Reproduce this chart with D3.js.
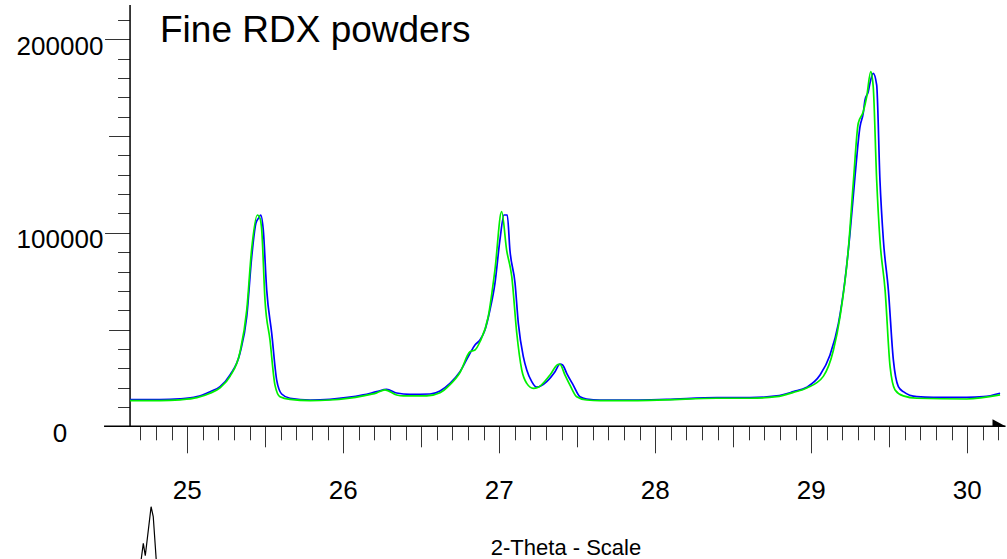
<!DOCTYPE html>
<html>
<head>
<meta charset="utf-8">
<script src="https://cdn.jsdelivr.net/npm/d3@7"></script>
<style>
  html, body { margin: 0; padding: 0; background: #fff; }
  svg { display: block; font-family: "Liberation Sans", Arial, sans-serif; }
</style>
</head>
<body>
<svg id="chart" width="1007" height="559"></svg>
<script>
// Diffraction profiles of two fine RDX powders (2-theta in degrees, intensity in counts)
const blueTheta = [24.633, 24.825, 24.953, 25.062, 25.146, 25.210, 25.274, 25.338, 25.381, 25.413,
  25.440, 25.458, 25.471, 25.487, 25.509, 25.541, 25.573, 25.605, 25.658, 25.787,
  25.915, 26.128, 26.214, 26.278, 26.342, 26.428, 26.556, 26.620, 26.684, 26.748,
  26.812, 26.844, 26.876, 26.908, 26.940, 26.972, 27.004, 27.030, 27.051, 27.068,
  27.101, 27.122, 27.154, 27.176, 27.208, 27.240, 27.304, 27.357, 27.389, 27.406,
  27.432, 27.474, 27.517, 27.560, 27.645, 27.859, 28.073, 28.394, 28.607, 28.778,
  28.885, 28.971, 29.056, 29.120, 29.174, 29.216, 29.248, 29.280, 29.312, 29.333,
  29.344, 29.365, 29.376, 29.397, 29.419, 29.440, 29.462, 29.494, 29.526, 29.558,
  29.590, 29.676, 29.782, 29.996, 30.103, 30.210];
const blueCounts = [13850, 13850, 14200, 15300, 17900, 20500, 26500, 37900, 56600, 87700,
  105100, 107700, 109200, 101500, 70400, 48200, 23900, 16700, 14500, 13600,
  13950, 16200, 17900, 19100, 17200, 16500, 16700, 18300, 22200, 28200,
  37700, 42000, 44600, 49800, 60100, 73900, 96300, 109200, 109200, 91100,
  73900, 53200, 36000, 29100, 23100, 20200, 23100, 28200, 32200, 31700,
  27400, 21300, 15300, 14100, 13600, 13600, 13950, 14800, 14800, 15700,
  17900, 20200, 26500, 36900, 53200, 75600, 99700, 129000, 154800, 161800,
  168600, 172900, 177300, 182400, 176400, 127300, 96300, 70400, 34300, 20500,
  17900, 15300, 15000, 15000, 15300, 17100];

const greenTheta = [24.633, 24.825, 24.953, 25.062, 25.146, 25.210, 25.274, 25.338, 25.381, 25.413,
  25.449, 25.466, 25.477, 25.498, 25.530, 25.562, 25.594, 25.658, 25.787, 25.915,
  26.128, 26.214, 26.267, 26.342, 26.385, 26.535, 26.620, 26.684, 26.748, 26.812,
  26.844, 26.876, 26.929, 26.972, 27.015, 27.047, 27.080, 27.112, 27.144, 27.176,
  27.218, 27.250, 27.325, 27.378, 27.389, 27.421, 27.453, 27.496, 27.560, 27.645,
  27.859, 28.073, 28.394, 28.607, 28.778, 28.885, 28.971, 29.077, 29.142, 29.184,
  29.237, 29.269, 29.301, 29.333, 29.355, 29.381, 29.397, 29.419, 29.440, 29.473,
  29.505, 29.537, 29.590, 29.676, 29.996, 30.210];
const greenCounts = [13300, 13300, 13700, 14800, 17100, 19900, 25800, 38500, 60000, 92000,
  109200, 107500, 101500, 65300, 44600, 21300, 15300, 13900, 13300, 13600,
  15700, 17300, 18800, 16200, 15700, 15700, 17300, 21500, 27800, 38500,
  39400, 43700, 56600, 80800, 110900, 91100, 77300, 48100, 29100, 22200,
  19600, 20200, 26500, 32000, 32000, 26500, 21300, 15300, 13600, 13300,
  13300, 13700, 14500, 14500, 15300, 17500, 19800, 25800, 39400, 56600,
  91100, 125600, 156600, 162600, 170300, 183300, 175500, 127300, 96300, 70400,
  30800, 18800, 15700, 14500, 14100, 16200];

// Axis labelling
const yLabelValues = [0, 100000, 200000];
const xLabelValues = [25, 26, 27, 28, 29, 30];
const titleText = "Fine RDX powders";
const xAxisTitle = "2-Theta - Scale";

// Small scan preview shown under the axis
const previewPos = [0, 0.15, 0.28, 0.66, 0.8, 1.0];
const previewLevel = [-0.05, 0.29, 0.05, 1.0, 0.81, -0.05];

const svg = d3.select("#chart");

const x = d3.scaleLinear().domain([25, 30]).range([187.3, 967.3]);
const y = d3.scaleLinear().domain([0, 200000]).range([426.3, 39.3]);

const xMin = 24.633, xMax = 30.245, yTop = 217700;

// Y axis: ticks every 10000, longer at 50000 and 100000 multiples
const yTicks = d3.range(0, 210001, 10000);
const yAxis = svg.append("g");
yAxis.selectAll("line.tick").data(yTicks).join("line")
  .attr("x1", d => d % 100000 === 0 ? x(xMin) - 25 : (d % 50000 === 0 ? x(xMin) - 21 : x(xMin) - 12))
  .attr("x2", x(xMin))
  .attr("y1", d => Math.round(y(d)) + 0.5)
  .attr("y2", d => Math.round(y(d)) + 0.5)
  .attr("stroke", "#333").attr("stroke-width", 1);
yAxis.append("line")
  .attr("x1", x(xMin)).attr("x2", x(xMin))
  .attr("y1", y(yTop)).attr("y2", y(0))
  .attr("stroke", "#000").attr("stroke-width", 1.5);
yAxis.selectAll("text").data(yLabelValues).join("text")
  .attr("x", 60).attr("y", d => y(d) + 15.2)
  .attr("text-anchor", "middle")
  .attr("font-size", 26)
  .text(d => d3.format("d")(d));

// X axis: ticks every 0.1, longer at halves and integers
const xTicks = d3.range(247, 303).map(v => v / 10);
const xAxis = svg.append("g");
xAxis.selectAll("line.tick").data(xTicks).join("line")
  .attr("x1", d => Math.round(x(d)) + 0.5)
  .attr("x2", d => Math.round(x(d)) + 0.5)
  .attr("y1", y(0))
  .attr("y2", d => {
    const k = Math.round(d * 10);
    if (k % 10 === 0) return y(0) + 27;
    if (k % 5 === 0) return y(0) + 21;
    return y(0) + 14;
  })
  .attr("stroke", "#333").attr("stroke-width", 1);
xAxis.append("line")
  .attr("x1", x(xMin) - 26).attr("x2", x(xMax))
  .attr("y1", y(0)).attr("y2", y(0))
  .attr("stroke", "#000").attr("stroke-width", 1.5);
xAxis.append("path")
  .attr("d", d3.line()([[x(xMax) - 13, y(0) - 7], [x(xMax), y(0)], [x(xMax) - 13, y(0) + 0.5]]) + "Z")
  .attr("fill", "#000");
xAxis.selectAll("text").data(xLabelValues).join("text")
  .attr("x", d => x(d)).attr("y", 499)
  .attr("text-anchor", "middle")
  .attr("font-size", 26)
  .text(d => d);

svg.append("text")
  .attr("x", 566).attr("y", 555)
  .attr("text-anchor", "middle")
  .attr("font-size", 22)
  .text(xAxisTitle);

svg.append("text")
  .attr("x", 160).attr("y", 42)
  .attr("font-size", 37)
  .text(titleText);

// Profiles
const line = d3.line().curve(d3.curveMonotoneX).x(d => x(d[0])).y(d => y(d[1]));
const blue = blueTheta.map((t, i) => [t, blueCounts[i]]);
const green = greenTheta.map((t, i) => [t, greenCounts[i]]);

svg.append("path").datum(blue)
  .attr("d", line).attr("fill", "none")
  .attr("stroke", "#0000ff").attr("stroke-width", 1.7).attr("stroke-linejoin", "round");
svg.append("path").datum(green)
  .attr("d", line).attr("fill", "none")
  .attr("stroke", "#00f000").attr("stroke-width", 1.7).attr("stroke-linejoin", "round");

// Preview glyph
const px = d3.scaleLinear().domain([0, 1]).range([141, 156.3]);
const py = d3.scaleLinear().domain([0, 1]).range([558.3, 506.7]);
svg.append("path")
  .datum(previewPos.map((p, i) => [p, previewLevel[i]]))
  .attr("d", d3.line().x(d => px(d[0])).y(d => py(d[1])))
  .attr("fill", "none").attr("stroke", "#000").attr("stroke-width", 1.2);
</script>
</body>
</html>
